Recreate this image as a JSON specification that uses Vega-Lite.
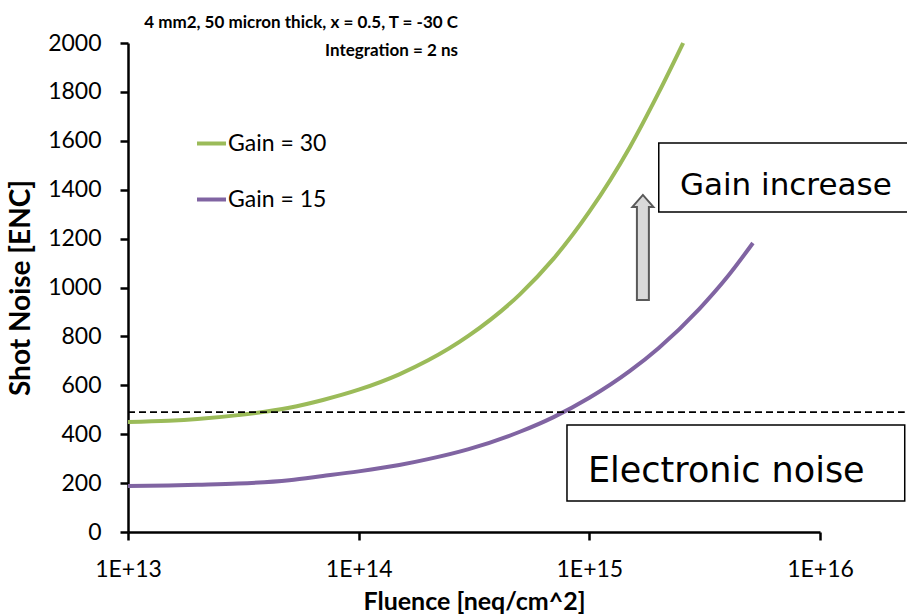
{
  "$schema": "https://vega.github.io/schema/vega-lite/v6.json",
  "width": 692,
  "height": 489,
  "autosize": {"type": "none"},
  "padding": {"left": 128, "top": 43, "right": 87, "bottom": 84},
  "background": "white",
  "config": {
    "view": {"stroke": null},
    "font": "Lato"
  },
  "title": {
    "text": ["4 mm2, 50 micron thick,  x = 0.5, T = -30 C", "Integration = 2 ns"],
    "anchor": "start",
    "align": "right",
    "dx": 330,
    "offset": -28,
    "frame": "group",
    "font": "Lato",
    "fontSize": 17,
    "fontWeight": "bold",
    "lineHeight": 28,
    "color": "black"
  },
  "layer": [
    {
      "data": {"values": [
        {"fluence": 1e13, "noise": 450, "series": "Gain = 30"},
        {"fluence": 1.5e13, "noise": 455, "series": "Gain = 30"},
        {"fluence": 2e13, "noise": 462, "series": "Gain = 30"},
        {"fluence": 3e13, "noise": 478, "series": "Gain = 30"},
        {"fluence": 5e13, "noise": 508, "series": "Gain = 30"},
        {"fluence": 7e13, "noise": 540, "series": "Gain = 30"},
        {"fluence": 1e14, "noise": 582, "series": "Gain = 30"},
        {"fluence": 1.5e14, "noise": 645, "series": "Gain = 30"},
        {"fluence": 2e14, "noise": 702, "series": "Gain = 30"},
        {"fluence": 3e14, "noise": 803, "series": "Gain = 30"},
        {"fluence": 5e14, "noise": 972, "series": "Gain = 30"},
        {"fluence": 7e14, "noise": 1118, "series": "Gain = 30"},
        {"fluence": 1e15, "noise": 1310, "series": "Gain = 30"},
        {"fluence": 1.5e15, "noise": 1575, "series": "Gain = 30"},
        {"fluence": 2e15, "noise": 1798, "series": "Gain = 30"},
        {"fluence": 2.55e15, "noise": 2000, "series": "Gain = 30"},
        {"fluence": 1e13, "noise": 188, "series": "Gain = 15"},
        {"fluence": 1.5e13, "noise": 190, "series": "Gain = 15"},
        {"fluence": 2e13, "noise": 193, "series": "Gain = 15"},
        {"fluence": 3e13, "noise": 198, "series": "Gain = 15"},
        {"fluence": 5e13, "noise": 212, "series": "Gain = 15"},
        {"fluence": 7e13, "noise": 229, "series": "Gain = 15"},
        {"fluence": 1e14, "noise": 248, "series": "Gain = 15"},
        {"fluence": 1.5e14, "noise": 274, "series": "Gain = 15"},
        {"fluence": 2e14, "noise": 298, "series": "Gain = 15"},
        {"fluence": 3e14, "noise": 339, "series": "Gain = 15"},
        {"fluence": 5e14, "noise": 410, "series": "Gain = 15"},
        {"fluence": 7e14, "noise": 470, "series": "Gain = 15"},
        {"fluence": 1e15, "noise": 549, "series": "Gain = 15"},
        {"fluence": 1.5e15, "noise": 659, "series": "Gain = 15"},
        {"fluence": 2e15, "noise": 753, "series": "Gain = 15"},
        {"fluence": 3e15, "noise": 913, "series": "Gain = 15"},
        {"fluence": 4e15, "noise": 1048, "series": "Gain = 15"},
        {"fluence": 5.12e15, "noise": 1182, "series": "Gain = 15"}
      ]},
      "mark": {"type": "line", "strokeWidth": 4, "interpolate": "monotone"},
      "encoding": {
        "x": {
          "field": "fluence", "type": "quantitative",
          "scale": {"type": "log", "domain": [1e13, 1e16], "nice": false},
          "axis": {
            "title": "Fluence [neq/cm^2]",
            "values": [1e13, 1e14, 1e15, 1e16],
            "format": ".0e",
            "labelExpr": "upper(datum.label)",
            "labelFlush": false,
            "grid": false,
            "domainColor": "black", "domainWidth": 2.5,
            "tickColor": "black", "tickWidth": 2.5, "tickSize": 8,
            "labelFont": "Lato", "labelFontSize": 23, "labelColor": "black", "labelPadding": 18,
            "titleFont": "Lato", "titleFontSize": 25, "titleFontWeight": "bold", "titleColor": "black", "titlePadding": 8
          }
        },
        "y": {
          "field": "noise", "type": "quantitative",
          "scale": {"domain": [0, 2000], "nice": false, "zero": true},
          "axis": {
            "title": "Shot Noise [ENC]",
            "values": [0, 200, 400, 600, 800, 1000, 1200, 1400, 1600, 1800, 2000],
            "format": "d",
            "grid": false,
            "domainColor": "black", "domainWidth": 2.5,
            "tickColor": "black", "tickWidth": 2.5, "tickSize": 8,
            "labelFont": "Lato", "labelFontSize": 23, "labelColor": "black", "labelPadding": 19,
            "titleFont": "Lato", "titleFontSize": 28, "titleFontWeight": "bold", "titleColor": "black", "titlePadding": 12
          }
        },
        "color": {
          "field": "series", "type": "nominal",
          "scale": {"domain": ["Gain = 30", "Gain = 15"], "range": ["#9BBB59", "#8064A2"]},
          "legend": {
            "title": null,
            "orient": "none",
            "legendX": 67,
            "legendY": 84,
            "symbolType": "stroke",
            "symbolSize": 841,
            "symbolStrokeWidth": 4,
            "labelOffset": 0,
            "labelFont": "Lato",
            "labelFontSize": 23,
            "labelColor": "black",
            "rowPadding": 27
          }
        }
      }
    },
    {
      "data": {"values": [{"fluence": 1e13, "fluence_end": 2.33e16, "level": 490}]},
      "mark": {"type": "rule", "color": "black", "strokeWidth": 1.8, "strokeDash": [7, 4]},
      "encoding": {
        "x": {"field": "fluence", "type": "quantitative"},
        "x2": {"field": "fluence_end"},
        "y": {"field": "level", "type": "quantitative"}
      }
    },
    {
      "data": {"values": [
        {"x1": 2.0e15, "x2": 2.6e16, "y1": 1591, "y2": 1309},
        {"x1": 8.0e14, "x2": 2.33e16, "y1": 438, "y2": 127}
      ]},
      "mark": {"type": "rect", "fill": "white", "stroke": "black", "strokeWidth": 1.5},
      "encoding": {
        "x": {"field": "x1", "type": "quantitative"},
        "x2": {"field": "x2"},
        "y": {"field": "y1", "type": "quantitative"},
        "y2": {"field": "y2"}
      }
    },
    {
      "data": {"values": [
        {"x": 2.47e15, "y": 1378, "label": "Gain increase", "size": 31},
        {"x": 9.86e14, "y": 204, "label": "Electronic noise", "size": 35}
      ]},
      "mark": {"type": "text", "align": "left", "baseline": "alphabetic", "font": "DejaVu Sans", "color": "black"},
      "encoding": {
        "x": {"field": "x", "type": "quantitative"},
        "y": {"field": "y", "type": "quantitative"},
        "text": {"field": "label"},
        "size": {"field": "size", "type": "quantitative", "scale": null}
      }
    },
    {
      "data": {"values": [{"x": 1.707e15, "y": 1164}]},
      "mark": {
        "type": "point",
        "filled": true,
        "shape": "M-0.114,1L-0.114,-0.771L-0.2,-0.771L0,-1L0.2,-0.771L0.114,-0.771L0.114,1Z",
        "size": 11025,
        "fill": "#D9D9D9",
        "stroke": "#595959",
        "strokeWidth": 2,
        "opacity": 1
      },
      "encoding": {
        "x": {"field": "x", "type": "quantitative"},
        "y": {"field": "y", "type": "quantitative"}
      }
    }
  ]
}
